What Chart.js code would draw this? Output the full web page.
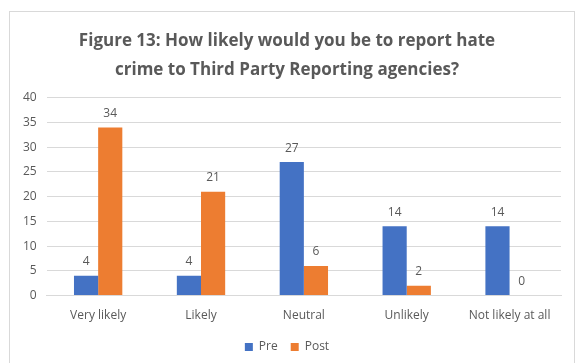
<!DOCTYPE html>
<html>
<head>
<meta charset="utf-8">
<script src="https://cdn.jsdelivr.net/npm/chart.js@4"></script>
<style>
  html, body { margin: 0; padding: 0; background: #fff; overflow: hidden; }
  .frame {
    position: absolute; left: 9px; top: 11px; width: 566px; height: 360px;
    border: 1px solid #d9d9d9; box-sizing: border-box;
  }
  canvas { display: block; }
</style>
</head>
<body>
<div class="frame"><canvas id="chart" width="564" height="358"></canvas></div>
<script>
const categories = ['Very likely', 'Likely', 'Neutral', 'Unlikely', 'Not likely at all'];
const preValues = [4, 4, 27, 14, 14];
const postValues = [34, 21, 6, 2, 0];
const yTicks = [0, 5, 10, 15, 20, 25, 30, 35, 40];

const textColor = '#595959';
const fontFamily = "'Open Sans', 'Liberation Sans', sans-serif";

// writes each bar's value just above it
const valueLabels = {
  id: 'valueLabels',
  afterDatasetsDraw(chart) {
    const ctx = chart.ctx;
    ctx.save();
    ctx.fillStyle = textColor;
    ctx.font = '12px ' + fontFamily;
    ctx.textAlign = 'center';
    ctx.textBaseline = 'bottom';
    chart.data.datasets.forEach((ds, i) => {
      chart.getDatasetMeta(i).data.forEach((bar, j) => {
        ctx.fillText(ds.data[j], bar.x, bar.y - 8);
      });
    });
    ctx.restore();
  }
};

new Chart(document.getElementById('chart'), {
  type: 'bar',
  data: {
    labels: categories,
    datasets: [{
      label: 'Pre',
      data: preValues,
      backgroundColor: '#4472C4'
    }, {
      label: 'Post',
      data: postValues,
      backgroundColor: '#ED7D31'
    }]
  },
  options: {
    responsive: false,
    animation: false,
    layout: { padding: { left: 3, right: 13, top: 0, bottom: 7 } },
    datasets: {
      bar: { categoryPercentage: 0.47, barPercentage: 1.0 }
    },
    plugins: {
      title: {
        display: true,
        text: ['Figure 13: How likely would you be to report hate', 'crime to Third Party Reporting agencies?'],
        color: textColor,
        font: { family: fontFamily, size: 17, weight: 'bold', lineHeight: 1.7 },
        padding: { top: 15, bottom: 13 }
      },
      legend: {
        position: 'bottom',
        labels: {
          color: textColor,
          font: { family: fontFamily, size: 12 },
          boxWidth: 8,
          boxHeight: 8,
          padding: 13
        }
      },
      tooltip: { enabled: false }
    },
    scales: {
      x: {
        grid: { display: false },
        border: { color: '#d9d9d9' },
        ticks: { color: textColor, font: { family: fontFamily, size: 12 }, padding: 5 }
      },
      y: {
        min: 0,
        max: 40,
        afterBuildTicks: (axis) => { axis.ticks = yTicks.map(v => ({ value: v })); },
        grid: { color: '#d9d9d9', drawTicks: false },
        border: { display: false },
        ticks: { color: textColor, font: { family: fontFamily, size: 12 }, padding: 10 }
      }
    }
  },
  plugins: [valueLabels]
});
</script>
</body>
</html>
